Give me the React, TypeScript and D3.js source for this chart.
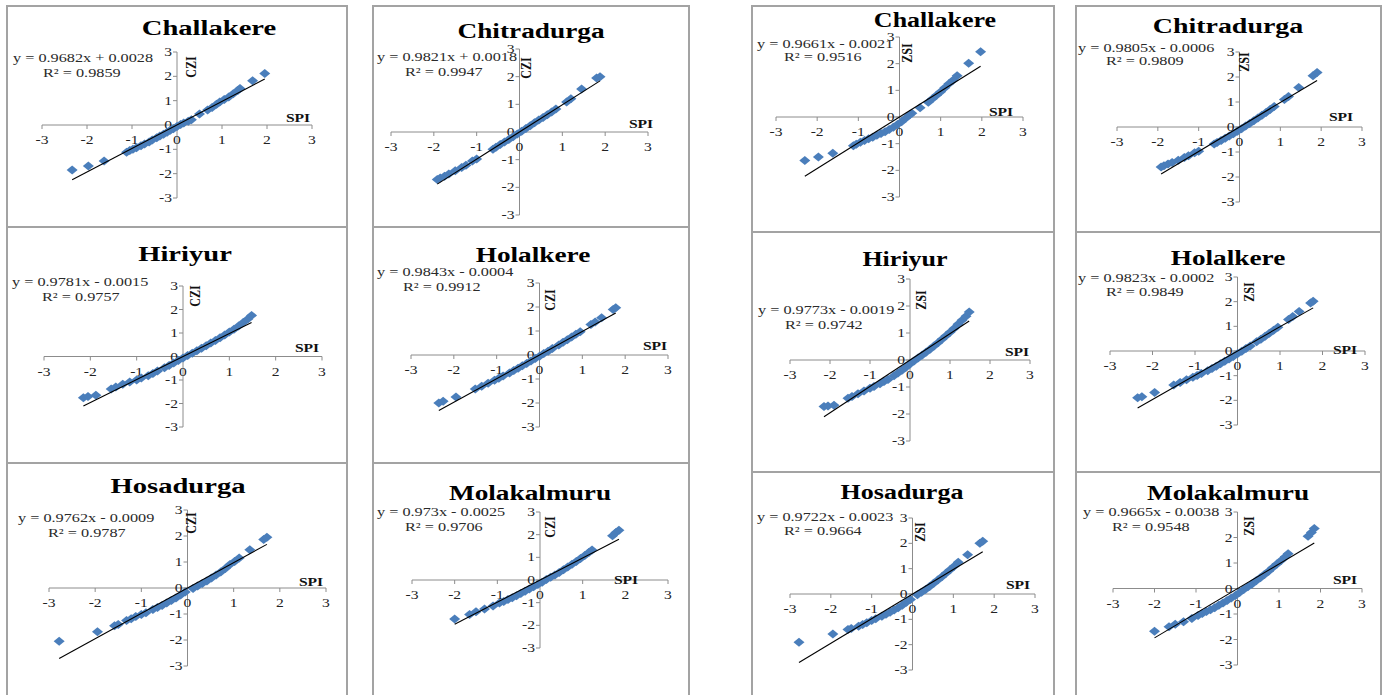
import React from "react";
import * as d3 from "d3";

// ---------- tick labels ----------
const tickValues = [-3, -2, -1, 0, 1, 2, 3];

// ---------- stations / equations ----------
const stations = ["Challakere", "Chitradurga", "Hiriyur", "Holalkere", "Hosadurga", "Molakalmuru"];
const cziSlopes = [0.9682, 0.9821, 0.9781, 0.9843, 0.9762, 0.973];
const cziIntercepts = [0.0028, 0.0018, -0.0015, -0.0004, -0.0009, -0.0025];
const cziEquations = ["y = 0.9682x + 0.0028", "y = 0.9821x + 0.0018", "y = 0.9781x - 0.0015", "y = 0.9843x - 0.0004", "y = 0.9762x - 0.0009", "y = 0.973x - 0.0025"];
const cziR2 = ["R² = 0.9859", "R² = 0.9947", "R² = 0.9757", "R² = 0.9912", "R² = 0.9787", "R² = 0.9706"];
const zsiSlopes = [0.9661, 0.9805, 0.9773, 0.9823, 0.9722, 0.9665];
const zsiIntercepts = [-0.0021, -0.0006, -0.0019, -0.0002, -0.0023, -0.0038];
const zsiEquations = ["y = 0.9661x - 0.0021", "y = 0.9805x - 0.0006", "y = 0.9773x - 0.0019", "y = 0.9823x - 0.0002", "y = 0.9722x - 0.0023", "y = 0.9665x - 0.0038"];
const zsiR2 = ["R² = 0.9516", "R² = 0.9809", "R² = 0.9742", "R² = 0.9849", "R² = 0.9664", "R² = 0.9548"];

// ---------- scatter data: [SPI, index] ----------
const challakereCZI: [number, number][] = [[-2.33,-1.85],[-1.97,-1.68],[-1.62,-1.48],[-1.12,-1.12],[-1.05,-1.05],[-0.98,-1.0],[-0.9,-0.93],[-0.8,-0.85],[-0.72,-0.78],[-0.62,-0.7],[-0.55,-0.62],[-0.45,-0.52],[-0.38,-0.45],[-0.3,-0.38],[-0.22,-0.3],[-0.15,-0.22],[-0.08,-0.15],[0.0,-0.06],[0.08,0.02],[0.15,0.08],[0.25,0.15],[0.32,0.22],[0.5,0.45],[0.68,0.62],[0.78,0.72],[0.88,0.85],[0.95,0.95],[1.05,1.05],[1.15,1.15],[1.25,1.28],[1.35,1.42],[1.4,1.5],[1.68,1.82],[1.95,2.12]];
const chitradurgaCZI: [number, number][] = [[-1.92,-1.72],[-1.85,-1.66],[-1.75,-1.6],[-1.65,-1.52],[-1.5,-1.4],[-1.35,-1.28],[-1.25,-1.2],[-1.1,-1.05],[-1.0,-0.98],[-0.62,-0.62],[-0.55,-0.55],[-0.45,-0.45],[-0.35,-0.36],[-0.25,-0.27],[-0.15,-0.17],[-0.05,-0.07],[0.05,0.03],[0.15,0.13],[0.25,0.23],[0.35,0.33],[0.45,0.43],[0.55,0.52],[0.65,0.62],[0.75,0.72],[0.85,0.83],[1.1,1.08],[1.2,1.2],[1.45,1.55],[1.8,1.95],[1.88,2.0]];
const hiriyurCZI: [number, number][] = [[-2.15,-1.75],[-2.05,-1.7],[-1.88,-1.65],[-1.55,-1.38],[-1.45,-1.3],[-1.3,-1.18],[-1.15,-1.08],[-1.0,-1.0],[-0.9,-0.92],[-0.75,-0.82],[-0.65,-0.72],[-0.55,-0.62],[-0.4,-0.48],[-0.3,-0.38],[-0.2,-0.28],[-0.1,-0.17],[0.0,-0.06],[0.1,0.04],[0.2,0.14],[0.3,0.24],[0.4,0.35],[0.5,0.46],[0.6,0.57],[0.7,0.68],[0.8,0.8],[0.9,0.92],[1.0,1.04],[1.1,1.16],[1.2,1.3],[1.3,1.45],[1.4,1.6],[1.48,1.75]];
const holalkereCZI: [number, number][] = [[-2.35,-2.0],[-2.25,-1.93],[-1.95,-1.75],[-1.5,-1.42],[-1.35,-1.3],[-1.2,-1.18],[-1.05,-1.05],[-0.95,-0.97],[-0.85,-0.88],[-0.7,-0.75],[-0.6,-0.65],[-0.5,-0.55],[-0.4,-0.45],[-0.3,-0.35],[-0.2,-0.25],[-0.1,-0.15],[0.0,-0.05],[0.1,0.06],[0.2,0.16],[0.3,0.27],[0.45,0.42],[0.55,0.53],[0.65,0.64],[0.75,0.75],[0.85,0.86],[0.95,0.97],[1.2,1.27],[1.3,1.38],[1.45,1.55],[1.72,1.9],[1.78,1.97]];
const hosadurgaCZI: [number, number][] = [[-2.78,-2.05],[-1.95,-1.68],[-1.58,-1.45],[-1.5,-1.4],[-1.32,-1.25],[-1.22,-1.18],[-1.12,-1.1],[-1.0,-1.02],[-0.9,-0.95],[-0.75,-0.83],[-0.65,-0.75],[-0.55,-0.67],[-0.45,-0.58],[-0.35,-0.48],[-0.25,-0.38],[-0.15,-0.27],[-0.05,-0.15],[0.12,-0.02],[0.22,0.08],[0.32,0.17],[0.42,0.27],[0.52,0.38],[0.62,0.5],[0.72,0.62],[0.82,0.75],[0.92,0.9],[1.02,1.02],[1.12,1.15],[1.35,1.47],[1.65,1.87],[1.72,1.95]];
const molakalmuruCZI: [number, number][] = [[-2.0,-1.72],[-1.65,-1.52],[-1.5,-1.4],[-1.3,-1.28],[-1.1,-1.15],[-0.95,-1.02],[-0.85,-0.95],[-0.75,-0.86],[-0.65,-0.78],[-0.55,-0.7],[-0.45,-0.6],[-0.35,-0.5],[-0.25,-0.4],[-0.15,-0.3],[-0.05,-0.2],[0.05,-0.1],[0.15,0.02],[0.25,0.12],[0.35,0.22],[0.45,0.33],[0.55,0.45],[0.65,0.57],[0.75,0.7],[0.85,0.82],[0.95,0.95],[1.05,1.08],[1.15,1.22],[1.22,1.32],[1.7,1.95],[1.78,2.1],[1.85,2.2]];

const challakereZSI: [number, number][] = [[-2.3,-1.63],[-1.97,-1.5],[-1.62,-1.36],[-1.12,-1.08],[-1.05,-1.02],[-0.95,-0.95],[-0.85,-0.88],[-0.75,-0.82],[-0.65,-0.76],[-0.55,-0.68],[-0.45,-0.62],[-0.35,-0.55],[-0.25,-0.47],[-0.15,-0.38],[-0.05,-0.28],[0.05,-0.18],[0.15,-0.05],[0.25,0.08],[0.3,0.14],[0.5,0.35],[0.7,0.55],[0.8,0.68],[0.9,0.82],[1.0,0.95],[1.1,1.1],[1.2,1.25],[1.3,1.38],[1.4,1.55],[1.68,2.02],[1.97,2.45]];
const chitradurgaZSI: [number, number][] = [[-1.92,-1.6],[-1.85,-1.55],[-1.75,-1.48],[-1.65,-1.42],[-1.5,-1.33],[-1.35,-1.22],[-1.25,-1.15],[-1.1,-1.03],[-1.0,-0.97],[-0.62,-0.68],[-0.55,-0.62],[-0.45,-0.54],[-0.35,-0.45],[-0.25,-0.36],[-0.15,-0.27],[-0.05,-0.17],[0.05,-0.07],[0.15,0.04],[0.25,0.14],[0.35,0.25],[0.45,0.36],[0.55,0.47],[0.65,0.58],[0.75,0.7],[0.85,0.82],[1.1,1.1],[1.2,1.22],[1.45,1.58],[1.8,2.05],[1.9,2.18]];
const hiriyurZSI: [number, number][] = [[-2.15,-1.72],[-2.05,-1.7],[-1.9,-1.68],[-1.55,-1.42],[-1.45,-1.35],[-1.3,-1.25],[-1.15,-1.15],[-1.0,-1.05],[-0.9,-0.98],[-0.75,-0.88],[-0.65,-0.8],[-0.55,-0.72],[-0.4,-0.58],[-0.3,-0.48],[-0.2,-0.38],[-0.1,-0.27],[0.0,-0.15],[0.1,-0.04],[0.2,0.07],[0.3,0.18],[0.4,0.29],[0.5,0.4],[0.6,0.52],[0.7,0.64],[0.8,0.77],[0.9,0.9],[1.0,1.03],[1.1,1.17],[1.2,1.32],[1.3,1.47],[1.4,1.62],[1.48,1.78]];
const holalkereZSI: [number, number][] = [[-2.35,-1.9],[-2.25,-1.85],[-1.95,-1.68],[-1.5,-1.38],[-1.35,-1.28],[-1.2,-1.17],[-1.05,-1.06],[-0.95,-0.99],[-0.85,-0.91],[-0.7,-0.8],[-0.6,-0.71],[-0.5,-0.62],[-0.4,-0.52],[-0.3,-0.42],[-0.2,-0.32],[-0.1,-0.22],[0.0,-0.11],[0.1,-0.01],[0.2,0.1],[0.3,0.2],[0.45,0.37],[0.55,0.48],[0.65,0.6],[0.75,0.72],[0.85,0.84],[0.95,0.96],[1.2,1.28],[1.3,1.4],[1.45,1.6],[1.72,1.95],[1.78,2.02]];
const hosadurgaZSI: [number, number][] = [[-2.78,-1.9],[-1.95,-1.58],[-1.58,-1.4],[-1.5,-1.36],[-1.32,-1.27],[-1.22,-1.2],[-1.12,-1.13],[-1.0,-1.05],[-0.9,-0.98],[-0.75,-0.88],[-0.65,-0.8],[-0.55,-0.72],[-0.45,-0.63],[-0.35,-0.54],[-0.25,-0.44],[-0.15,-0.33],[-0.05,-0.22],[0.12,-0.03],[0.22,0.07],[0.32,0.18],[0.42,0.3],[0.52,0.42],[0.62,0.55],[0.72,0.68],[0.82,0.82],[0.92,0.96],[1.02,1.1],[1.12,1.25],[1.35,1.55],[1.65,2.0],[1.72,2.08]];
const molakalmuruZSI: [number, number][] = [[-2.0,-1.68],[-1.65,-1.5],[-1.5,-1.4],[-1.3,-1.3],[-1.1,-1.18],[-0.95,-1.06],[-0.85,-0.98],[-0.75,-0.9],[-0.65,-0.83],[-0.55,-0.75],[-0.45,-0.66],[-0.35,-0.57],[-0.25,-0.47],[-0.15,-0.37],[-0.05,-0.27],[0.05,-0.16],[0.15,-0.04],[0.25,0.07],[0.35,0.18],[0.45,0.3],[0.55,0.42],[0.65,0.55],[0.75,0.68],[0.85,0.82],[0.95,0.96],[1.05,1.1],[1.15,1.25],[1.22,1.36],[1.7,2.05],[1.78,2.2],[1.85,2.35]];

const cziData = [challakereCZI, chitradurgaCZI, hiriyurCZI, holalkereCZI, hosadurgaCZI, molakalmuruCZI];
const zsiData = [challakereZSI, chitradurgaZSI, hiriyurZSI, holalkereZSI, hosadurgaZSI, molakalmuruZSI];

// ---------- layout (pixel geometry per panel) ----------
type Layout = {
  box: [number, number, number, number];
  xr: [number, number]; // px of -3 and 3
  yr: [number, number]; // px of -3 and 3
  title: [number, number, number];
  eq: [number, number];
  r2: [number, number];
  spi: [number, number];
  lab: [number, number];
};
const cziLayout: Layout[] = [
  { box: [7, 6, 347, 227], xr: [42, 312], yr: [198, 52], title: [209, 35, 22], eq: [13, 58], r2: [43, 73], spi: [298, 118], lab: [192, 67] },
  { box: [373, 6, 689, 227], xr: [391, 648], yr: [215, 49], title: [531, 38, 21], eq: [377, 57], r2: [405, 72], spi: [641, 124], lab: [527, 68] },
  { box: [7, 227, 347, 463], xr: [44, 322], yr: [427, 286], title: [185, 261, 22], eq: [12, 282], r2: [42, 297], spi: [307, 348], lab: [196, 296] },
  { box: [373, 227, 689, 463], xr: [411, 668], yr: [427, 283], title: [533, 262, 21], eq: [377, 272], r2: [403, 287], spi: [655, 346], lab: [551, 300] },
  { box: [7, 463, 347, 700], xr: [49, 326], yr: [666, 510], title: [178, 493, 22], eq: [18, 518], r2: [48, 533], spi: [311, 582], lab: [192, 523] },
  { box: [373, 463, 689, 700], xr: [412, 668], yr: [648, 512], title: [530, 500, 21], eq: [377, 512], r2: [405, 527], spi: [626, 580], lab: [551, 527] },
];
const zsiLayout: Layout[] = [
  { box: [752, 6, 1054, 232], xr: [776, 1023], yr: [197, 37], title: [935, 27, 20], eq: [757, 44], r2: [784, 57], spi: [1001, 112], lab: [908, 53] },
  { box: [1076, 6, 1381, 232], xr: [1117, 1362], yr: [202, 52], title: [1228, 33, 21.5], eq: [1078, 48], r2: [1106, 61], spi: [1341, 117], lab: [1245, 62] },
  { box: [752, 232, 1054, 472], xr: [790, 1030], yr: [441, 279], title: [905, 266, 20], eq: [758, 310], r2: [785, 325], spi: [1017, 352], lab: [922, 300] },
  { box: [1076, 232, 1381, 472], xr: [1110, 1365], yr: [425, 277], title: [1228, 265, 21], eq: [1078, 278], r2: [1106, 292], spi: [1345, 350], lab: [1250, 292] },
  { box: [752, 472, 1054, 700], xr: [790, 1035], yr: [670, 518], title: [902, 499, 20], eq: [757, 517], r2: [784, 531], spi: [1018, 585], lab: [921, 532] },
  { box: [1076, 472, 1381, 700], xr: [1113, 1362], yr: [665, 512], title: [1228, 500, 21], eq: [1083, 512], r2: [1112, 527], spi: [1345, 580], lab: [1250, 526] },
];

const SX = 1.3; // horizontal stretch of the reference rendering
const BLUE = "#4a7ebb";
const FONT = "'Liberation Serif', 'Times New Roman', serif";

function T(props: {
  x: number; y: number; size: number; children: React.ReactNode; anchor?: string; weight?: string; fill?: string; rotate?: number;
}) {
  const { x, y, size, children, anchor = "start", weight = "normal", fill = "#222", rotate } = props;
  return (
    <text
      transform={`translate(${x},${y}) scale(${SX},1)${rotate ? ` rotate(${rotate})` : ""}`}
      fontSize={size}
      fontFamily={FONT}
      fontWeight={weight}
      textAnchor={anchor}
      fill={fill}
    >
      {children}
    </text>
  );
}

function Panel(props: {
  layout: Layout; name: string; data: [number, number][]; slope: number; intercept: number; eq: string; r2: string; label: string;
}) {
  const { layout, name, data, slope, intercept, eq, r2, label } = props;
  const x = d3.scaleLinear().domain([-3, 3]).range(layout.xr);
  const y = d3.scaleLinear().domain([-3, 3]).range(layout.yr);
  const x0 = x(0);
  const y0 = y(0);
  const [bx0, by0, bx1, by1] = layout.box;
  const xs = data.map((d) => d[0]);
  const xmin = d3.min(xs) as number;
  const xmax = d3.max(xs) as number;
  const line = d3
    .line<number>()
    .x((v) => x(v))
    .y((v) => y(slope * v + intercept));
  const dw = 5.5;
  const dh = 4.5;
  const diamond = `M0,${-dh}L${dw},0L0,${dh}L${-dw},0Z`;
  return (
    <g>
      <rect x={bx0} y={by0} width={bx1 - bx0} height={by1 - by0} fill="#fff" stroke="#a3a3a3" strokeWidth={2} />
      {/* axes */}
      <line x1={x(-3)} x2={x(3)} y1={y0} y2={y0} stroke="#8c8c8c" strokeWidth={1} />
      <line x1={x0} x2={x0} y1={y(-3)} y2={y(3)} stroke="#8c8c8c" strokeWidth={1} />
      {tickValues.map((t) => (
        <g key={"xt" + t}>
          <line x1={x(t)} x2={x(t)} y1={y0} y2={y0 + 4} stroke="#8c8c8c" />
          <T x={x(t)} y={y0 + 19} size={12} anchor="middle">{String(t)}</T>
        </g>
      ))}
      {tickValues.map((t) => (
        <g key={"yt" + t}>
          <line x1={x0 - 4} x2={x0} y1={y(t)} y2={y(t)} stroke="#8c8c8c" />
          <T x={x0 - 5} y={y(t) + 4} size={12} anchor="end">{String(t)}</T>
        </g>
      ))}
      {/* points */}
      {data.map((d, i) => (
        <path key={i} d={diamond} transform={`translate(${x(d[0])},${y(d[1])})`} fill={BLUE} />
      ))}
      {/* trend line */}
      <path d={line([xmin, xmax]) || ""} stroke="#000" strokeWidth={1.1} fill="none" />
      {/* texts */}
      <T x={layout.title[0]} y={layout.title[1]} size={layout.title[2]} anchor="middle" weight="bold" fill="#000">{name}</T>
      <T x={layout.eq[0]} y={layout.eq[1] + 4} size={12.5} fill="#2a2a2a">{eq}</T>
      <T x={layout.r2[0]} y={layout.r2[1] + 4} size={12.5} fill="#2a2a2a">{r2}</T>
      <T x={layout.spi[0]} y={layout.spi[1] + 4} size={12} anchor="middle" weight="bold" fill="#111">SPI</T>
      <T x={layout.lab[0] + 4} y={layout.lab[1]} size={12} anchor="middle" weight="bold" fill="#111" rotate={-90}>{label}</T>
    </g>
  );
}

export default function App() {
  return (
    <svg
      width={1382}
      height={695}
      viewBox="0 0 1382 695"
      style={{ position: "absolute", left: 0, top: 0, background: "#fff" }}
    >
      <rect x={0} y={0} width={1382} height={695} fill="#fff" />
      {stations.map((s, i) => (
        <Panel
          key={"c" + s}
          layout={cziLayout[i]}
          name={s}
          data={cziData[i]}
          slope={cziSlopes[i]}
          intercept={cziIntercepts[i]}
          eq={cziEquations[i]}
          r2={cziR2[i]}
          label="CZI"
        />
      ))}
      {stations.map((s, i) => (
        <Panel
          key={"z" + s}
          layout={zsiLayout[i]}
          name={s}
          data={zsiData[i]}
          slope={zsiSlopes[i]}
          intercept={zsiIntercepts[i]}
          eq={zsiEquations[i]}
          r2={zsiR2[i]}
          label="ZSI"
        />
      ))}
    </svg>
  );
}
